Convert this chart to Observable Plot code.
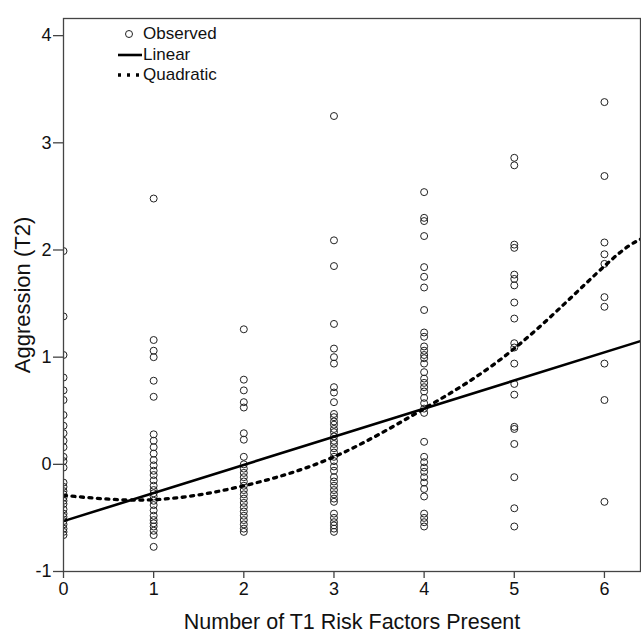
<!DOCTYPE html>
<html>
<head>
<meta charset="utf-8">
<script src="https://cdn.jsdelivr.net/npm/d3@7"></script>
<script src="https://cdn.jsdelivr.net/npm/@observablehq/plot@0.6"></script>
<style>
  html, body { margin: 0; padding: 0; background: #fff; }
  #wrap { position: relative; width: 641px; height: 635px; font-family: "Liberation Sans", Arial, sans-serif; }
  #legend { position: absolute; left: 112px; top: 24px; font-size: 17px; color: #111; }
  #legend .row { display: flex; align-items: center; height: 20.5px; }
  #legend svg { width: 30px; height: 20px; }
</style>
</head>
<body>
<div id="wrap"></div>
<script>
// ---- data ----
const riskFactors = [0, 1, 2, 3, 4, 5, 6];
const obs0 = [1.99, 1.38, 1.02, 0.81, 0.69, 0.6, 0.46, 0.36, 0.29, 0.22, 0.16, 0.07, 0.03, -0.03, -0.17, -0.21, -0.25, -0.28, -0.31, -0.34, -0.37, -0.42, -0.46, -0.49, -0.53, -0.56, -0.6, -0.63, -0.66];
const obs1 = [2.48, 1.16, 1.06, 1.0, 0.78, 0.63, 0.28, 0.22, 0.16, 0.1, 0.04, -0.01, -0.06, -0.1, -0.15, -0.2, -0.24, -0.27, -0.3, -0.34, -0.38, -0.43, -0.48, -0.52, -0.55, -0.58, -0.62, -0.66, -0.77];
const obs2 = [1.26, 0.79, 0.69, 0.58, 0.53, 0.29, 0.23, 0.07, 0.0, -0.04, -0.08, -0.12, -0.16, -0.2, -0.24, -0.28, -0.32, -0.36, -0.4, -0.44, -0.48, -0.52, -0.56, -0.6, -0.63];
const obs3 = [3.25, 2.09, 1.85, 1.31, 1.08, 1.0, 0.94, 0.72, 0.67, 0.58, 0.47, 0.44, 0.4, 0.37, 0.33, 0.3, 0.26, 0.22, 0.19, 0.15, 0.11, 0.07, 0.03, -0.02, -0.06, -0.12, -0.16, -0.2, -0.24, -0.28, -0.32, -0.35, -0.46, -0.5, -0.54, -0.57, -0.6, -0.63];
const obs4 = [2.54, 2.3, 2.27, 2.13, 1.84, 1.75, 1.65, 1.44, 1.23, 1.19, 1.1, 1.06, 1.02, 0.99, 0.94, 0.86, 0.8, 0.76, 0.72, 0.68, 0.62, 0.57, 0.52, 0.48, 0.21, 0.07, 0.02, -0.03, -0.07, -0.12, -0.17, -0.23, -0.3, -0.46, -0.5, -0.54, -0.58];
const obs5 = [2.86, 2.79, 2.05, 2.02, 1.77, 1.73, 1.67, 1.51, 1.36, 1.13, 1.09, 0.94, 0.75, 0.65, 0.35, 0.33, 0.19, -0.12, -0.41, -0.58];
const obs6 = [3.38, 2.69, 2.07, 1.96, 1.87, 1.56, 1.47, 0.94, 0.6, -0.35];
const observedByRisk = [obs0, obs1, obs2, obs3, obs4, obs5, obs6];

// fitted curves
const linearX = [0, 6.4];
const linearY = [-0.53, 1.15];
const quadX = [0, 1, 2, 3, 4, 5, 6, 6.4];
const quadY = [-0.29, -0.33, -0.2, 0.07, 0.52, 1.08, 1.85, 2.1];

const xTicks = [0, 1, 2, 3, 4, 5, 6];
const yTicks = [-1, 0, 1, 2, 3, 4];
const xTitle = "Number of T1 Risk Factors Present";
const yTitle = "Aggression (T2)";
const legendLabels = ["Observed", "Linear", "Quadratic"];

// ---- build tables ----
const points = observedByRisk.flatMap((vals, i) => vals.map(v => ({x: riskFactors[i], y: v})));
const linear = linearX.map((x, i) => ({x, y: linearY[i]}));
const quad = quadX.map((x, i) => ({x, y: quadY[i]}));

const ink = "#222";
const chart = Plot.plot({
  width: 641,
  height: 635,
  marginLeft: 63,
  marginRight: 1,
  marginTop: 18,
  marginBottom: 64,
  style: {fontFamily: "'Liberation Sans', Arial, sans-serif", color: ink, background: "#fff"},
  x: {domain: [0, 6.4]},
  y: {domain: [-1, 4.16]},
  marks: [
    Plot.dot(points, {x: "x", y: "y", r: 3.5, stroke: ink, strokeWidth: 1, fill: "none", clip: true}),
    Plot.line(linear, {x: "x", y: "y", stroke: "#000", strokeWidth: 2.6, clip: true}),
    Plot.line(quad, {x: "x", y: "y", curve: "natural", stroke: "#000", strokeWidth: 3.3, strokeDasharray: "3,5.5", clip: true}),
    Plot.frame({stroke: "#444", strokeWidth: 1.3}),
    Plot.axisY({ticks: yTicks, tickFormat: d => String(d), tickSize: 10, tickPadding: 2, fontSize: 18, label: null, stroke: "#444", strokeWidth: 1.3, fill: "#111"}),
    Plot.axisX({ticks: xTicks, tickFormat: d => String(d), tickSize: 7, tickPadding: 4, fontSize: 18, label: null, stroke: "#444", strokeWidth: 1.3, fill: "#111"}),
    Plot.text([yTitle], {frameAnchor: "left", textAnchor: "middle", lineAnchor: "middle", dx: -41, rotate: -90, fontSize: 22, fill: "#111"}),
    Plot.text([xTitle], {frameAnchor: "bottom", textAnchor: "middle", lineAnchor: "middle", dy: 51, fontSize: 21.5, fill: "#111"})
  ]
});

const wrap = document.getElementById("wrap");
wrap.appendChild(chart);

// legend overlay
const legend = document.createElement("div");
legend.id = "legend";
const symbols = [
  '<svg viewBox="0 0 30 20"><circle cx="17" cy="10" r="3.5" fill="none" stroke="#222" stroke-width="1"/></svg>',
  '<svg viewBox="0 0 30 20"><line x1="6" x2="30" y1="10" y2="10" stroke="#000" stroke-width="2.6"/></svg>',
  '<svg viewBox="0 0 30 20"><line x1="6" x2="27" y1="10" y2="10" stroke="#000" stroke-width="3.3" stroke-dasharray="3,6"/></svg>'
];
legendLabels.forEach((lab, i) => {
  const row = document.createElement("div");
  row.className = "row";
  row.innerHTML = symbols[i] + '<span style="margin-left:1px">' + lab + '</span>';
  legend.appendChild(row);
});
wrap.appendChild(legend);
</script>
</body>
</html>
